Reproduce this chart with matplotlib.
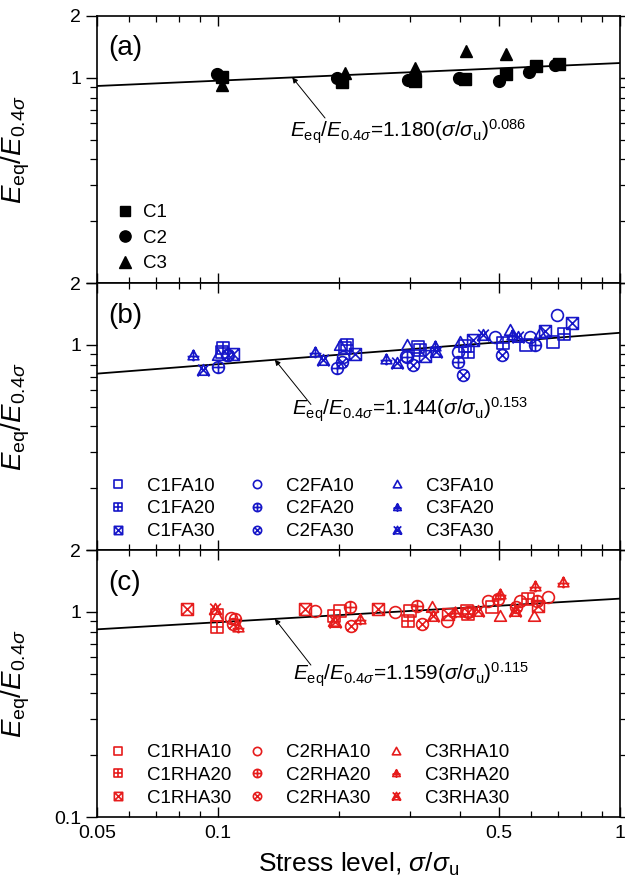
import numpy as np
import matplotlib
matplotlib.use('Agg')
import matplotlib.pyplot as plt
from matplotlib.path import Path
from matplotlib.ticker import FixedLocator, NullFormatter, FixedFormatter

plt.rcParams['font.family'] = ['Liberation Sans', 'DejaVu Sans']
plt.rcParams['mathtext.fontset'] = 'custom'
plt.rcParams['mathtext.rm'] = 'Liberation Sans'
plt.rcParams['mathtext.it'] = 'Liberation Sans:italic'
plt.rcParams['mathtext.bf'] = 'Liberation Sans:bold'

# ---------------- data ----------------
# panel (a)
a_C1_x = [0.1025, 0.204, 0.309, 0.412, 0.521, 0.618, 0.704]
a_C1_y = [1.008, 0.952, 0.963, 0.981, 1.046, 1.141, 1.164]
a_C2_x = [0.0995, 0.198, 0.297, 0.397, 0.500, 0.593, 0.690]
a_C2_y = [1.046, 1.000, 0.974, 0.992, 0.963, 1.070, 1.150]
a_C3_x = [0.1024, 0.207, 0.309, 0.4136, 0.521]
a_C3_y = [0.920, 1.058, 1.120, 1.354, 1.303]

# panel (b)
C1FA10_x = [0.1021, 0.207, 0.315, 0.4116, 0.5836, 0.6822]
C1FA10_y = [0.920, 0.960, 0.977, 0.990, 0.997, 1.035]
C1FA20_x = [0.1031, 0.209, 0.318, 0.4194, 0.5125, 0.7255]
C1FA20_y = [0.960, 1.000, 0.940, 0.925, 1.016, 1.127]
C1FA30_x = [0.1092, 0.2191, 0.327, 0.4315, 0.6506, 0.758]
C1FA30_y = [0.901, 0.898, 0.881, 1.055, 1.171, 1.271]
C2FA10_x = [0.1051, 0.205, 0.2935, 0.396, 0.4888, 0.597, 0.6957]
C2FA10_y = [0.890, 0.873, 0.880, 0.925, 1.094, 1.094, 1.396]
C2FA20_x = [0.0998, 0.1974, 0.2956, 0.396, 0.6145]
C2FA20_y = [0.781, 0.767, 0.868, 0.826, 0.997]
C2FA30_x = [0.1061, 0.2031, 0.306, 0.4076, 0.5077]
C2FA30_y = [0.891, 0.826, 0.796, 0.712, 0.891]
C3FA10_x = [0.1001, 0.2011, 0.2956, 0.3999, 0.5326, 0.6323]
C3FA10_y = [0.891, 0.997, 0.997, 1.035, 1.180, 1.136]
C3FA20_x = [0.0868, 0.1743, 0.2617, 0.3466, 0.5378]
C3FA20_y = [0.891, 0.925, 0.849, 0.986, 1.115]
C3FA30_x = [0.0916, 0.1828, 0.2783, 0.3486, 0.457, 0.5585]
C3FA30_y = [0.753, 0.842, 0.811, 0.925, 1.115, 1.094]

# panel (c)
C1RHA10_x = [0.0993, 0.2011, 0.3002, 0.4157, 0.4795]
C1RHA10_y = [0.960, 1.012, 1.012, 1.012, 1.051]
C1RHA20_x = [0.0996, 0.1943, 0.2974, 0.4194, 0.591]
C1RHA20_y = [0.839, 0.950, 0.904, 0.980, 1.150]
C1RHA30_x = [0.0836, 0.1645, 0.2505, 0.374, 0.626]
C1RHA30_y = [1.031, 1.031, 1.031, 0.980, 1.071]
C2RHA10_x = [0.108, 0.1743, 0.2756, 0.3705, 0.470, 0.564, 0.663]
C2RHA10_y = [0.930, 1.012, 0.993, 0.904, 1.132, 1.132, 1.176]
C2RHA20_x = [0.1101, 0.213, 0.312, 0.498, 0.620]
C2RHA20_y = [0.921, 1.051, 1.071, 1.150, 1.130]
C2RHA30_x = [0.109, 0.2147, 0.321, 0.4194, 0.550]
C2RHA30_y = [0.870, 0.855, 0.871, 1.000, 1.050]
C3RHA10_x = [0.0993, 0.1943, 0.340, 0.5029, 0.6098]
C3RHA10_y = [0.957, 0.900, 1.051, 0.957, 0.957]
C3RHA20_x = [0.1123, 0.2255, 0.3887, 0.5029, 0.6145, 0.7228]
C3RHA20_y = [0.839, 0.921, 0.993, 1.220, 1.339, 1.391]
C3RHA30_x = [0.0983, 0.1955, 0.343, 0.444, 0.548]
C3RHA30_y = [1.031, 0.887, 0.957, 1.012, 1.012]

# power-law fits  E_eq/E_0.4 = k (s/su)^n
fit_a = (1.180, 0.086)
fit_b = (1.144, 0.153)
fit_c = (1.159, 0.115)

x_ticks = [0.05, 0.1, 0.5, 1]
x_ticklabels = ['0.05', '0.1', '0.5', '1']

# ---------------- markers ----------------
M, L, C = Path.MOVETO, Path.LINETO, Path.CLOSEPOLY

def build(parts):
    verts, codes = [], []
    for v, c in parts:
        verts += v
        codes += c
    return Path(verts, codes)

sq = ([(-1, -1), (1, -1), (1, 1), (-1, 1), (-1, -1)], [M, L, L, L, C])
tri = ([(0, 1), (-1, -0.8), (1, -0.8), (0, 1)], [M, L, L, C])
uc = Path.unit_circle()
circ = (list(map(tuple, uc.vertices)), list(uc.codes))
plus = ([(0, -1), (0, 1), (-1, 0), (1, 0)], [M, L, M, L])
cross = ([(-1, -1), (1, 1), (-1, 1), (1, -1)], [M, L, M, L])
ccross = ([(-0.707, -0.707), (0.707, 0.707), (-0.707, 0.707), (0.707, -0.707)], [M, L, M, L])
tplus = ([(0, 1), (0, -1.1), (-1.1, -0.2), (1.1, -0.2)], [M, L, M, L])
tcross = ([(-1, -1), (0.9, 1.0), (1, -1), (-0.9, 1.0)], [M, L, M, L])

mk = {
    'sq': build([sq]), 'sqp': build([sq, plus]), 'sqx': build([sq, cross]),
    'ci': build([circ]), 'cip': build([circ, plus]), 'cix': build([circ, ccross]),
    'tr': build([tri]), 'trp': build([tri, tplus]), 'trx': build([tri, tcross]),
}

blue = '#1616c8'
red = '#e61c1c'

# ---------------- figure ----------------
fig = plt.figure(figsize=(6.25, 8.88), dpi=100)
L0, W = 97 / 625, 523 / 625
H = 267 / 888
bottoms = [1 - 283 / 888, 1 - 550 / 888, 1 - 817 / 888]
axs = [fig.add_axes([L0, b, W, H]) for b in bottoms]

ylab = r'$E_{\mathrm{eq}}/E_{0.4\sigma}$'
xfit = np.geomspace(0.05, 1, 200)

def style(ax, last):
    ax.set_xscale('log')
    ax.set_yscale('log')
    ax.set_xlim(0.05, 1)
    ax.set_ylim(0.1, 2)
    ax.xaxis.set_major_locator(FixedLocator(x_ticks))
    ax.xaxis.set_minor_locator(FixedLocator([0.06, 0.07, 0.08, 0.09, 0.2, 0.3, 0.4, 0.6, 0.7, 0.8, 0.9]))
    ax.xaxis.set_minor_formatter(NullFormatter())
    if last:
        ax.xaxis.set_major_formatter(FixedFormatter(x_ticklabels))
    else:
        ax.xaxis.set_major_formatter(NullFormatter())
    ax.yaxis.set_major_locator(FixedLocator([0.1, 1, 2]))
    ax.yaxis.set_major_formatter(FixedFormatter(['0.1' if last else '', '1', '2']))
    ax.yaxis.set_minor_locator(FixedLocator([0.2, 0.3, 0.4, 0.5, 0.6, 0.7, 0.8, 0.9]))
    ax.yaxis.set_minor_formatter(NullFormatter())
    ax.tick_params(axis='x', which='both', direction='in', top=True, bottom=True, labelsize=14, pad=6)
    ax.tick_params(axis='x', which='major', length=7, width=1)
    ax.tick_params(axis='x', which='minor', length=4, width=0.9)
    ax.tick_params(axis='y', which='both', direction='out', left=True, right=True, labelsize=14)
    ax.tick_params(axis='y', which='major', length=8, width=1)
    ax.tick_params(axis='y', which='minor', length=5, width=0.9)
    for s in ax.spines.values():
        s.set_linewidth(1.2)
    ax.set_ylabel(ylab, fontsize=20)
    ax.yaxis.set_label_coords(-0.125, 0.5)

def fitline(ax, fit, text_xy, tail_xy, head_x):
    k, n = fit
    ax.plot(xfit, k * xfit ** n, color='k', lw=1.3, zorder=1)
    ax.annotate('', xy=(head_x, k * head_x ** n), xycoords='data',
                xytext=tail_xy, textcoords='axes fraction',
                arrowprops=dict(arrowstyle='-|>', color='k', lw=0.7, mutation_scale=8,
                                shrinkA=0, shrinkB=0))
    ax.text(text_xy[0], text_xy[1],
            r'$E_{\mathrm{eq}}/E_{0.4\sigma}$=' + f'{k:.3f}' + r'($\sigma/\sigma_{\mathrm{u}}$)$^{' + f'{n:.3f}' + r'}$',
            transform=ax.transAxes, fontsize=15, ha='left', va='center')

# panel a
ax = axs[0]
style(ax, False)
fitline(ax, fit_a, (0.369, 0.565), (0.436, 0.618), 0.153)
ax.plot(a_C1_x, a_C1_y, ls='none', marker='s', ms=8, color='k', label='C1', zorder=3)
ax.plot(a_C2_x, a_C2_y, ls='none', marker='o', ms=8.5, color='k', label='C2', zorder=3)
ax.plot(a_C3_x, a_C3_y, ls='none', marker='^', ms=9, color='k', label='C3', zorder=3)
ax.text(0.021, 0.88, '(a)', transform=ax.transAxes, fontsize=20, ha='left', va='center')
ax.legend(loc='lower left', bbox_to_anchor=(0.035, 0.04), frameon=False, fontsize=13.5,
          handlelength=1.0, handletextpad=0.5, labelspacing=0.45, borderpad=0,
          borderaxespad=0, markerscale=0.95)

# panel b
ax = axs[1]
style(ax, False)
fitline(ax, fit_b, (0.373, 0.524), (0.409, 0.545), 0.1385)
series_b = [
    (C1FA10_x, C1FA10_y, 'sq', 'C1FA10'), (C1FA20_x, C1FA20_y, 'sqp', 'C1FA20'),
    (C1FA30_x, C1FA30_y, 'sqx', 'C1FA30'), (C2FA10_x, C2FA10_y, 'ci', 'C2FA10'),
    (C2FA20_x, C2FA20_y, 'cip', 'C2FA20'), (C2FA30_x, C2FA30_y, 'cix', 'C2FA30'),
    (C3FA10_x, C3FA10_y, 'tr', 'C3FA10'), (C3FA20_x, C3FA20_y, 'trp', 'C3FA20'),
    (C3FA30_x, C3FA30_y, 'trx', 'C3FA30'),
]
for xs, ys, m, lab in series_b:
    ax.plot(xs, ys, ls='none', marker=mk[m], ms=8.5, mfc='none', mec=blue, mew=1.2,
            label=lab, zorder=3)
ax.text(0.021, 0.875, '(b)', transform=ax.transAxes, fontsize=20, ha='left', va='center')
ax.legend(loc='lower left', bbox_to_anchor=(0.023, 0.037), frameon=False, fontsize=13.5, ncol=3,
          handlelength=1.0, handletextpad=1.05, labelspacing=0.3, columnspacing=1.75,
          borderpad=0, borderaxespad=0, markerscale=0.7)

# panel c
ax = axs[2]
style(ax, True)
fitline(ax, fit_c, (0.375, 0.532), (0.409, 0.569), 0.1385)
series_c = [
    (C1RHA10_x, C1RHA10_y, 'sq', 'C1RHA10'), (C1RHA20_x, C1RHA20_y, 'sqp', 'C1RHA20'),
    (C1RHA30_x, C1RHA30_y, 'sqx', 'C1RHA30'), (C2RHA10_x, C2RHA10_y, 'ci', 'C2RHA10'),
    (C2RHA20_x, C2RHA20_y, 'cip', 'C2RHA20'), (C2RHA30_x, C2RHA30_y, 'cix', 'C2RHA30'),
    (C3RHA10_x, C3RHA10_y, 'tr', 'C3RHA10'), (C3RHA20_x, C3RHA20_y, 'trp', 'C3RHA20'),
    (C3RHA30_x, C3RHA30_y, 'trx', 'C3RHA30'),
]
for xs, ys, m, lab in series_c:
    ax.plot(xs, ys, ls='none', marker=mk[m], ms=8.5, mfc='none', mec=red, mew=1.2,
            label=lab, zorder=3)
ax.text(0.021, 0.875, '(c)', transform=ax.transAxes, fontsize=20, ha='left', va='center')
ax.legend(loc='lower left', bbox_to_anchor=(0.023, 0.039), frameon=False, fontsize=13.5, ncol=3,
          handlelength=1.0, handletextpad=1.05, labelspacing=0.3, columnspacing=0.85,
          borderpad=0, borderaxespad=0, markerscale=0.7)
ax.set_xlabel(r'Stress level, $\sigma/\sigma_{\mathrm{u}}$', fontsize=19, labelpad=6)

fig.savefig('out.png', dpi=100)
